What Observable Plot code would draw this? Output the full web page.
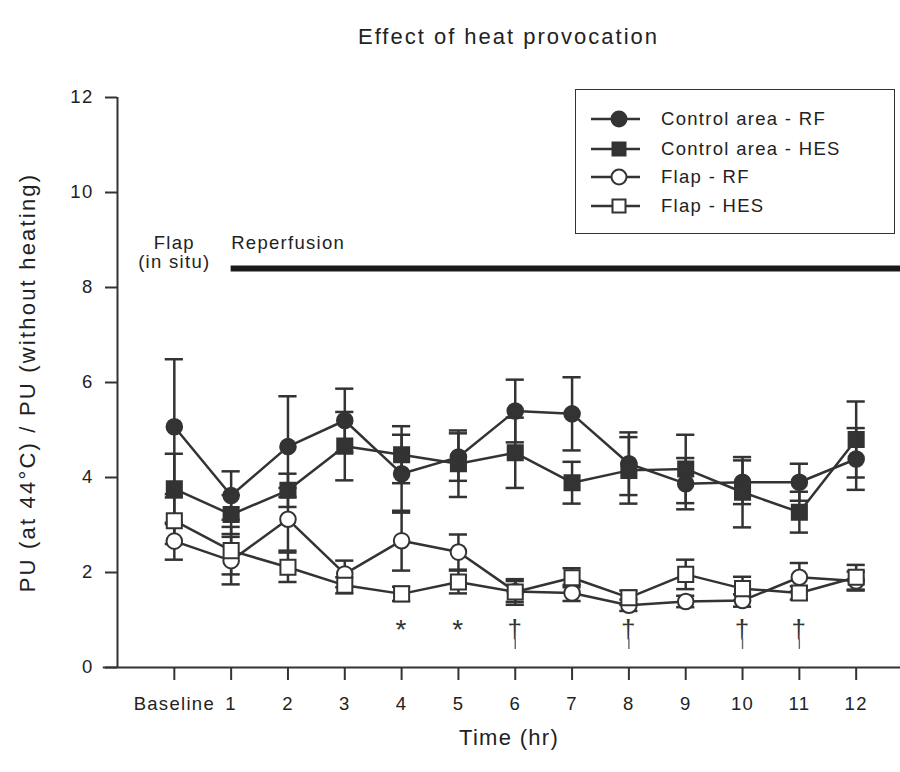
<!DOCTYPE html>
<html><head><meta charset="utf-8">
<script src="https://cdn.jsdelivr.net/npm/d3@7"></script>
<script src="https://cdn.jsdelivr.net/npm/@observablehq/plot@0.6"></script>
<style>
body{margin:0;background:#fff;font-family:"Liberation Sans",Arial,sans-serif;color:#222}
#wrap{position:relative;width:900px;height:772px}
#title{height:60px;box-sizing:border-box;padding-top:25px;padding-left:117px;text-align:center;font-size:22px;line-height:24px;letter-spacing:2px;color:#222}
#legend{position:absolute;left:575px;top:89px;width:320px;height:145px;border:1.5px solid #333;box-sizing:border-box;background:#fff}
.row{position:absolute;left:14px;height:24px;display:flex;align-items:center;font-size:18.5px;letter-spacing:1.3px;color:#222}
.row svg{margin-right:21px}
</style></head>
<body><div id="wrap"><div id="title">Effect of heat provocation</div><div id="chart"></div><div id="legend"></div></div>
<script>
// ---- data ----
const hourLabels = ["Baseline","1","2","3","4","5","6","7","8","9","10","11","12"];
const hours = [0,1,2,3,4,5,6,7,8,9,10,11,12];
const yTicks = [0,2,4,6,8,10,12];

const ctrlRF     = [5.07,3.62,4.65,5.20,4.08,4.43,5.40,5.34,4.29,3.87,3.90,3.90,4.39];
const ctrlRFerr  = [1.42,0.51,1.06,0.67,0.82,0.50,0.66,0.77,0.66,0.54,0.46,0.39,0.65];
const ctrlHES    = [3.76,3.22,3.73,4.66,4.48,4.29,4.52,3.89,4.15,4.18,3.69,3.27,4.80];
const ctrlHESerr = [0.74,0.41,0.35,0.72,0.60,0.70,0.74,0.44,0.70,0.72,0.74,0.43,0.80];
const flapRF     = [2.66,2.25,3.12,1.97,2.67,2.43,1.60,1.57,1.31,1.39,1.41,1.90,1.82];
const flapRFerr  = [0.39,0.50,0.66,0.28,0.63,0.37,0.22,0.17,0.12,0.12,0.13,0.30,0.20];
const flapHES    = [3.09,2.46,2.11,1.73,1.55,1.80,1.59,1.89,1.47,1.96,1.66,1.57,1.90];
const flapHESerr = [0.49,0.50,0.31,0.17,0.15,0.24,0.27,0.20,0.15,0.31,0.25,0.14,0.26];

const seriesNames = ["Control area - RF","Control area - HES","Flap - RF","Flap - HES"];
const seriesMeans = [ctrlRF, ctrlHES, flapRF, flapHES];
const seriesErrs  = [ctrlRFerr, ctrlHESerr, flapRFerr, flapHESerr];
const seriesSymbols = ["circle","square","circle","square"];
const seriesFilled  = [true, true, false, false];

const starHours = [4,5];
const daggerHours = [6,8,10,11];
const phaseLabels = ["Flap", "(in situ)", "Reperfusion"];
const reperfusionLevel = 8.4;

// ---- layout ----
const xMin = -1, xMax = 12.78;
const ink = "#333";
const capHalf = 0.16;

const rows = seriesNames.flatMap((s, i) => hours.map((h, j) => ({
  series: s, idx: i, x: h, y: seriesMeans[i][j], e: seriesErrs[i][j]
})));

const marks = [
  Plot.ruleY([0], {x1: xMin - 0.25, x2: xMax, stroke: ink, strokeWidth: 2}),
  Plot.ruleX([xMin], {y1: 0, y2: 12, stroke: ink, strokeWidth: 2}),
  Plot.axisY({ticks: yTicks, tickSize: 12, tickPadding: 12, tickFormat: d => d, label: null, strokeWidth: 2, stroke: ink}),
  Plot.axisX({ticks: hours, tickSize: 13, tickPadding: 16, tickFormat: i => hourLabels[i], label: null, strokeWidth: 2, stroke: ink}),
  // error bars
  Plot.ruleX(rows, {x: "x", y1: d => d.y - d.e, y2: d => d.y + d.e, stroke: ink, strokeWidth: 2.5}),
  Plot.ruleY(rows, {y: d => d.y + d.e, x1: d => d.x - capHalf, x2: d => d.x + capHalf, stroke: ink, strokeWidth: 2.5}),
  Plot.ruleY(rows, {y: d => d.y - d.e, x1: d => d.x - capHalf, x2: d => d.x + capHalf, stroke: ink, strokeWidth: 2.5}),
  // lines
  Plot.line(rows, {x: "x", y: "y", z: "series", stroke: ink, strokeWidth: 2.5}),
];
seriesNames.forEach((s, i) => {
  marks.push(Plot.dot(rows.filter(d => d.idx === i), {
    x: "x", y: "y", symbol: seriesSymbols[i],
    r: seriesSymbols[i] === "circle" ? 7.8 : 8.5,
    fill: seriesFilled[i] ? ink : "#fff", stroke: ink, strokeWidth: 2
  }));
});
// annotations
marks.push(
  Plot.ruleY([reperfusionLevel], {x1: 1, x2: xMax, stroke: "#1a1a1a", strokeWidth: 6}),
  Plot.text([phaseLabels[0]], {x: 0, y: 8.93, text: d => d, fill: "#222"}),
  Plot.text([phaseLabels[1]], {x: 0, y: 8.53, text: d => d, fill: "#222"}),
  Plot.text([phaseLabels[2]], {x: 1, y: 8.93, text: d => d, textAnchor: "start", fill: "#222"}),
  Plot.text(starHours, {x: d => d, y: 0.78, text: () => "*", fontSize: 28, fill: "#333"}),
  Plot.text(daggerHours, {x: d => d, y: 1.02, text: () => "†", fontSize: 26, lineAnchor: "top", fill: "#333"}),
  Plot.ruleX(daggerHours, {x: d => d, y1: 0.38, y2: 0.6, stroke: "#666", strokeWidth: 1.4}),
  Plot.text(["PU (at 44°C) / PU (without heating)"], {frameAnchor: "left", dx: -90, rotate: -90, textAnchor: "middle", lineAnchor: "middle", text: d => d, fontSize: 22, fill: "#222"}),
  Plot.text(["Time (hr)"], {frameAnchor: "bottom", dy: 70, lineAnchor: "middle", text: d => d, fontSize: 22, fill: "#222"})
);

const chart = Plot.plot({
  width: 900, height: 712,
  marginLeft: 117, marginRight: 0, marginTop: 37, marginBottom: 105,
  x: {domain: [xMin, xMax], axis: null},
  y: {domain: [0, 12], axis: null},
  style: {fontFamily: "'Liberation Sans', Arial, sans-serif", fontSize: "18.5px", letterSpacing: "1.3px", color: "#222", background: "#fff", overflow: "visible"},
  marks
});
// widen tracking of the long y-axis title to match the reference
chart.querySelectorAll("text").forEach(t => {
  if (t.textContent.startsWith("PU (")) t.style.letterSpacing = "2.2px";
});
document.getElementById("chart").appendChild(chart);

// legend
const legend = document.getElementById("legend");
const rowCenters = [28.8, 58.5, 87.2, 115.5];
seriesNames.forEach((s, i) => {
  const row = document.createElement("div");
  row.className = "row";
  row.style.top = (rowCenters[i] - 12) + "px";
  const fill = seriesFilled[i] ? ink : "#fff";
  const sym = seriesSymbols[i] === "circle"
    ? `<circle cx="29" cy="12" r="7.5" fill="${fill}" stroke="${ink}" stroke-width="2"/>`
    : `<rect x="22.5" y="5.5" width="13" height="13" fill="${fill}" stroke="${ink}" stroke-width="2"/>`;
  row.innerHTML = `<svg width="50" height="24"><line x1="1" x2="50" y1="12" y2="12" stroke="${ink}" stroke-width="2.5"/>${sym}</svg><span>${s}</span>`;
  legend.appendChild(row);
});
</script></body></html>
